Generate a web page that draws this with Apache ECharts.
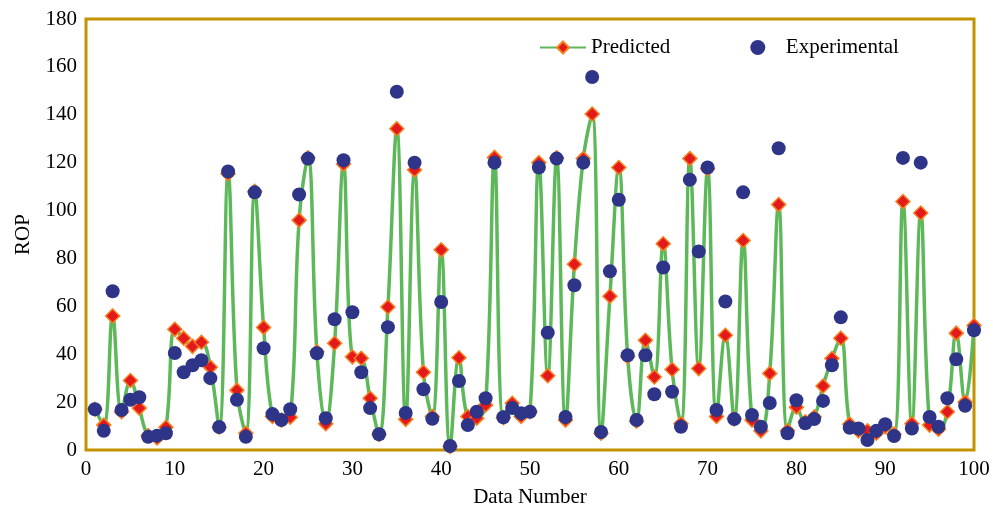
<!DOCTYPE html>
<html>
<head>
<meta charset="utf-8">
<script src="https://cdn.jsdelivr.net/npm/echarts@6/dist/echarts.min.js"></script>
<style>
  html, body { margin: 0; padding: 0; background: #fff; }
  #chart { width: 993px; height: 508px; }
</style>
</head>
<body>
<div id="chart"></div>
<script>
// Data
const dataNumber = Array.from({ length: 100 }, (_, i) => i + 1);

const predicted = [
  17, 10.4, 56, 16, 29, 17.5, 6, 5, 9.5, 50.4,
  46.7, 43.3, 45, 34.6, 9.5, 115.4, 25, 7, 108, 51.2,
  14, 12.5, 13.7, 96, 122, 41, 11, 44.6, 119.4, 38.9,
  38.3, 21.6, 6.5, 59.7, 134.2, 12.8, 117, 32.5, 14, 83.6,
  1.5, 38.5, 14, 13.3, 18.8, 122.2, 13.5, 19.5, 14, 16,
  120, 31, 122, 12.5, 77.6, 121.7, 140.3, 7, 64.2, 118,
  39, 12, 45.8, 30.5, 86.1, 33.6, 11, 121.7, 34, 117.5,
  14, 47.9, 13, 87.5, 12.5, 8, 32, 102.5, 8, 17.9,
  11.8, 13.8, 26.7, 38.2, 46.7, 10.8, 8, 8, 7, 9.7,
  6.6, 103.8, 11, 99, 10.4, 8.7, 16, 48.8, 20, 52
];

const experimental = [
  17, 8, 66.3, 16.7, 21, 22, 5.5, 6, 7, 40.5,
  32.5, 35.4, 37.5, 30, 9.6, 116.3, 21, 5.5, 107.6, 42.5,
  15, 12.5, 17, 106.7, 121.7, 40.4, 13.3, 54.6, 121, 57.5,
  32.5, 17.5, 6.6, 51.3, 149.6, 15.5, 120, 25.4, 13, 61.8,
  1.7, 28.8, 10.4, 16, 21.6, 120, 13.7, 17.5, 15.4, 16,
  118, 49, 121.7, 13.8, 68.8, 120, 155.8, 7.5, 74.6, 104.5,
  39.6, 12.5, 39.6, 23.3, 76.2, 24.3, 9.7, 112.9, 82.9, 118,
  16.7, 62, 12.9, 107.6, 14.6, 9.7, 19.6, 126, 7, 20.8,
  11.2, 12.9, 20.5, 35.4, 55.4, 9.3, 9, 4.2, 8, 10.8,
  5.8, 122, 9, 120, 13.8, 9.7, 21.6, 37.9, 18.5, 50
];

const xTicks = { min: 0, max: 100, interval: 10 };
const yTicks = { min: 0, max: 180, interval: 20 };

const chart = echarts.init(document.getElementById('chart'));

const font = 'Liberation Serif, Times New Roman, serif';

const option = {
  animation: false,
  textStyle: { fontFamily: font },
  grid: {
    left: 86,
    right: 19,
    top: 19,
    bottom: 58,
    containLabel: false,
    outerBoundsMode: 'none',
    show: true,
    borderColor: '#C39200',
    borderWidth: 3,
    backgroundColor: '#fff',
  },
  legend: {
    left: 534,
    top: 32,
    itemWidth: 46,
    itemHeight: 15,
    itemGap: 80,
    textStyle: { fontFamily: font, fontSize: 21, color: '#000' },
    data: ['Predicted', 'Experimental'],
  },
  xAxis: {
    type: 'value',
    min: xTicks.min,
    max: xTicks.max,
    interval: xTicks.interval,
    name: 'Data Number',
    nameLocation: 'middle',
    nameGap: 37,
    nameTextStyle: { fontFamily: font, fontSize: 21, color: '#000' },
    axisLine: { show: false },
    axisTick: { show: false },
    splitLine: { show: false },
    axisLabel: { fontFamily: font, fontSize: 21, color: '#000', margin: 9 },
  },
  yAxis: {
    type: 'value',
    min: yTicks.min,
    max: yTicks.max,
    interval: yTicks.interval,
    name: 'ROP',
    nameLocation: 'middle',
    nameGap: 52,
    nameTextStyle: { fontFamily: font, fontSize: 21, color: '#000' },
    axisLine: { show: false },
    axisTick: { show: false },
    splitLine: { show: false },
    axisLabel: { fontFamily: font, fontSize: 21, color: '#000', margin: 9 },
  },
  series: [
    {
      name: 'Predicted',
      type: 'line',
      smooth: 0.4,
      data: dataNumber.map((x, i) => [x, predicted[i]]),
      symbol: 'diamond',
      symbolSize: 14,
      lineStyle: { color: '#5DB85A', width: 3.5 },
      itemStyle: { color: '#E3191C', borderColor: '#F58220', borderWidth: 1.5 },
      z: 2,
    },
    {
      name: 'Experimental',
      type: 'scatter',
      data: dataNumber.map((x, i) => [x, experimental[i]]),
      symbol: 'circle',
      symbolSize: 14,
      itemStyle: { color: '#2E3589', opacity: 1 },
      z: 3,
    },
  ],
};

chart.setOption(option);
</script>
</body>
</html>
